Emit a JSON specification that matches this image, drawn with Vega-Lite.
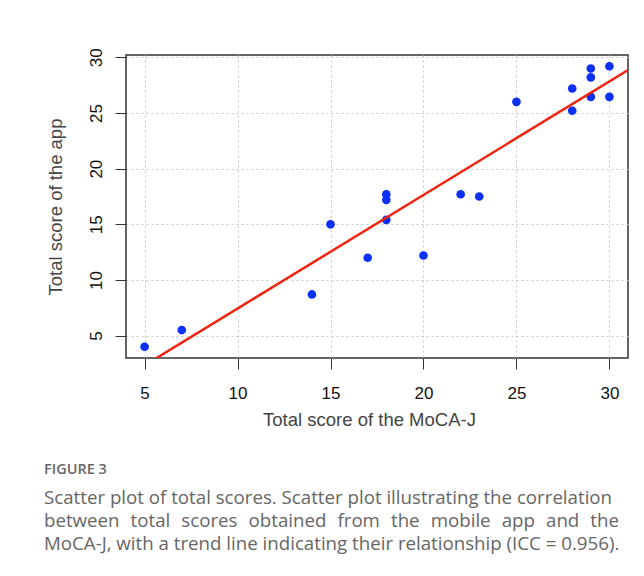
{
  "$schema": "https://vega.github.io/schema/vega-lite/v6.json",
  "autosize": "none",
  "width": 502,
  "height": 303,
  "padding": {"left": 126, "top": 55, "right": 16, "bottom": 218},
  "background": "white",
  "config": {
    "view": {"stroke": "#333333", "strokeWidth": 1.5},
    "axis": {
      "domain": false,
      "grid": true,
      "gridColor": "#c8c8c8",
      "gridDash": [2, 3],
      "gridWidth": 1,
      "ticks": true,
      "tickColor": "#333333",
      "tickSize": 11,
      "tickWidth": 1,
      "labelFont": "Liberation Sans",
      "labelFontSize": 17,
      "labelColor": "#111111",
      "titleFont": "Liberation Sans",
      "titleFontSize": 18.5,
      "titleFontWeight": "normal",
      "titleColor": "#444444"
    }
  },
  "title": {
    "text": "FIGURE 3",
    "subtitle": [
      "Scatter plot of total scores. Scatter plot illustrating the correlation",
      "between \u2004total \u2004scores \u2004obtained \u2004from \u2004the \u2004mobile \u2004app \u2004and \u2004the",
      "MoCA-J, with a trend line indicating their relationship (ICC = 0.956)."
    ],
    "orient": "bottom",
    "anchor": "start",
    "frame": "group",
    "dx": -82,
    "offset": 34,
    "font": "Open Sans",
    "fontSize": 14.5,
    "fontWeight": 600,
    "color": "#666666",
    "subtitleFont": "Open Sans",
    "subtitleFontSize": 18.7,
    "subtitleColor": "#666666",
    "subtitleLineHeight": 23,
    "subtitlePadding": 12
  },
  "layer": [
    {
      "data": {
        "values": [
          {"moca": 5, "app": 4.0},
          {"moca": 7, "app": 5.5},
          {"moca": 14, "app": 8.7},
          {"moca": 15, "app": 15.0},
          {"moca": 17, "app": 12.0},
          {"moca": 18, "app": 17.7},
          {"moca": 18, "app": 17.2},
          {"moca": 18, "app": 15.4},
          {"moca": 20, "app": 12.2},
          {"moca": 22, "app": 17.7},
          {"moca": 23, "app": 17.5},
          {"moca": 25, "app": 26.0},
          {"moca": 28, "app": 27.2},
          {"moca": 28, "app": 25.2},
          {"moca": 29, "app": 29.0},
          {"moca": 29, "app": 28.2},
          {"moca": 29, "app": 26.45},
          {"moca": 30, "app": 29.2},
          {"moca": 30, "app": 26.45}
        ]
      },
      "mark": {"type": "circle", "size": 75, "color": "#0a30f5", "opacity": 1},
      "encoding": {
        "x": {
          "field": "moca",
          "type": "quantitative",
          "scale": {"domain": [4, 31], "nice": false, "zero": false},
          "axis": {
            "values": [5, 10, 15, 20, 25, 30],
            "title": "Total score of the MoCA-J",
            "labelPadding": 16,
            "titlePadding": 9,
            "titleX": 243
          }
        },
        "y": {
          "field": "app",
          "type": "quantitative",
          "scale": {"domain": [2.99, 30.21], "nice": false, "zero": false},
          "axis": {
            "values": [5, 10, 15, 20, 25, 30],
            "title": "Total score of the app",
            "labelAngle": -90,
            "labelAlign": "center",
            "labelBaseline": "bottom",
            "labelPadding": 10,
            "titlePadding": 22
          }
        }
      }
    },
    {
      "data": {
        "values": [
          {"moca": 4, "app": 1.31},
          {"moca": 31, "app": 28.86}
        ]
      },
      "mark": {"type": "line", "color": "#f0240f", "strokeWidth": 2.5, "clip": true},
      "encoding": {
        "x": {"field": "moca", "type": "quantitative"},
        "y": {"field": "app", "type": "quantitative"}
      }
    }
  ]
}
